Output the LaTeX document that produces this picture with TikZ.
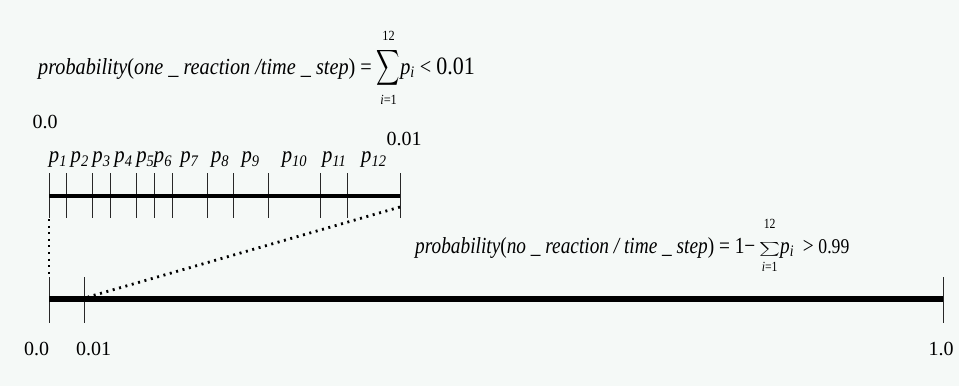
\documentclass[tikz,border=0pt]{standalone}
\usepackage{exscale}
\usepackage{fontspec}
\setmainfont{Liberation Serif}
\newfontfamily\cond[FakeStretch=0.9]{Liberation Serif}
\newfontfamily\condA[FakeStretch=0.88]{Liberation Serif}
\newfontfamily\condB[FakeStretch=0.84]{Liberation Serif}
\usetikzlibrary{calc}
\definecolor{bg}{RGB}{245,249,247}
\definecolor{tickc}{RGB}{40,40,40}
% sum with limits: #1 sum size, #2 upper gap, #3 lower gap, #4 xscale, #5 yscale, #6 style
\newcommand{\limsum}[6]{\ensuremath{\mathop{\mbox{\scalebox{#4}[#5]{\fontsize{#1}{#1}\selectfont$#6\sum$}}}\limits^{\raisebox{#2}{\fontsize{14}{14}\selectfont 12}}_{\raisebox{-#3}{\fontsize{14}{14}\selectfont\textit{i}=1}}}}
\begin{document}
\begin{tikzpicture}[x=1pt,y=-1pt,
  tick/.style={draw=tickc,line width=0.9pt},
  mainline/.style={draw=black,line width=3.4pt},
  bigline/.style={draw=black,line width=5.5pt},
  dots/.style={draw=black,line width=2.8pt,dash pattern=on 2pt off 4.6pt},
  num/.style={inner sep=0pt,font=\fontsize{20}{22}\selectfont},
  plab/.style={inner sep=0pt,font=\cond\fontsize{23}{25}\selectfont},
  formula/.style={inner sep=0pt,anchor=base west}]
\useasboundingbox[fill=bg] (0,0) rectangle (959,386);
% top scale
\foreach \x [count=\i from 0] in {49.3,66.7,92.7,110.3,136.7,154,172,207.3,233,268.3,320.7,347.7,400}{
  \coordinate (t\i) at (\x,196);
  \draw[tick] (\x,173) -- (\x,218);
}
\draw[mainline] (t0) -- (t12);
\foreach \i [evaluate=\i as \j using int(\i-1)] in {1,...,12}{
  \node[plab] (p\i) at ($(t\j)!0.5!(t\i)+(0,-36)$) {\textit{p}\textsubscript{\textit{\i}}};
}
\node[num] (a0) at (45,122) {0.0};
\node[num] (a1) at (404,139) {0.01};
% bottom scale
\coordinate (b0) at (49,299);
\coordinate (b1) at (84,299);
\coordinate (b2) at (943,299);
\draw[tick] (49,277) -- (49,323);
\draw[tick] (84,277) -- (84,323);
\draw[tick] (943,277) -- (943,323);
\draw[bigline] (b0) -- (b2);
\node[num] (c0) at (36.7,349) {0.0};
\node[num] (c1) at (93.5,349) {0.01};
\node[num] (c2) at (941,349) {1.0};
% dotted connectors
\coordinate (d0) at (49,219);
\coordinate (d1) at (49,276);
\coordinate (e0) at (400,207);
\coordinate (e1) at (88,297);
\draw[dots] (d0) -- (d1);
\draw[dots] (e0) -- (e1);
% formulas
\node[formula,font=\condA\fontsize{23}{26}\selectfont] (f1) at (38,74) {\textit{probability}(\textit{one \_ reaction /time \_ step}) = \limsum{23}{2pt}{2pt}{0.65}{1}{\displaystyle}\textit{p}\textsubscript{\textit{i}} < {\fontsize{25}{25}\selectfont 0.01}};
\node[formula,font=\condB\fontsize{23}{26}\selectfont] (f2) at (415,253) {\textit{probability}(\textit{no \_ reaction / time \_ step}) = 1\char"2212\,\limsum{16}{9pt}{0pt}{1.15}{0.8}{\textstyle}\textit{p}\textsubscript{\textit{i}} \,> {\fontsize{21}{21}\selectfont 0.99}};
\end{tikzpicture}
\end{document}
